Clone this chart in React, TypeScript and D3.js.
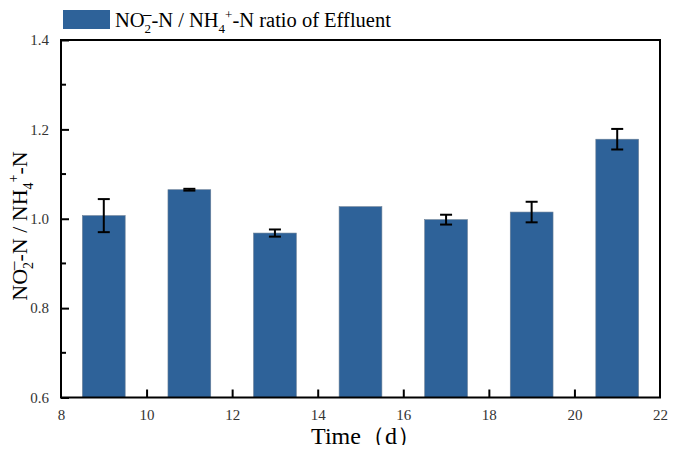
import React, { useRef, useEffect } from "react";
import * as d3 from "d3";

// day on the x axis, ratio value and error (± half-length)
const days = [9, 11, 13, 15, 17, 19, 21];
const ratios = [1.007, 1.065, 0.968, 1.027, 0.998, 1.015, 1.178];
const errors = [0.037, 0.002, 0.008, 0, 0.011, 0.023, 0.023];
const xTicks = [8, 10, 12, 14, 16, 18, 20, 22];
const yTicks = [0.6, 0.8, 1.0, 1.2, 1.4];
const yMinorTicks = [0.7, 0.9, 1.1, 1.3];

const BAR_COLOR = "#2e6299";
const FONT = "'Liberation Serif', 'Times New Roman', serif";

// NO2- -N / NH4+ -N with sub/superscripts
const addRatioLabel = (t: any, size: number, tail: string) => {
  const s = Math.round(size * 0.65);
  const up = Math.round(size * 0.7);
  const dn = Math.round(size * 0.28);
  t.append("tspan").text("NO");
  t.append("tspan").attr("font-size", s).attr("dy", dn).text("2");
  t.append("tspan").attr("font-size", s * 1.25).attr("dx", -s * 0.6).attr("dy", -up).text("–");
  t.append("tspan").attr("dy", up - dn).text("-N / NH");
  t.append("tspan").attr("font-size", s).attr("dy", dn).text("4");
  t.append("tspan").attr("font-size", s).attr("dy", -up).text("+");
  t.append("tspan").attr("dy", up - dn).text(tail);
};

const App = () => {
  const svgRef = useRef<SVGSVGElement>(null);

  useEffect(() => {
    const svg = d3.select(svgRef.current);
    svg.selectAll("*").remove();

    const left = 61;
    const right = 660;
    const top = 40;
    const bottom = 397.5;

    const x = d3.scaleLinear().domain([8, 22]).range([left, right]);
    const y = d3.scaleLinear().domain([0.6, 1.4]).range([bottom, top]);

    const bw = x(1) - x(0);

    // bars
    svg
      .append("g")
      .selectAll("rect")
      .data(days)
      .join("rect")
      .attr("x", (d) => x(d) - bw / 2)
      .attr("y", (d, i) => y(ratios[i]))
      .attr("width", bw)
      .attr("height", (d, i) => bottom - y(ratios[i]))
      .attr("fill", BAR_COLOR)
      .attr("stroke", "#6a7f96")
      .attr("stroke-width", 0.6);

    // error bars
    const eb = svg.append("g").attr("stroke", "#000").attr("stroke-width", 2);
    days.forEach((d, i) => {
      if (!errors[i]) return;
      const cx = x(d);
      const y1 = y(ratios[i] + errors[i]);
      const y2 = y(ratios[i] - errors[i]);
      eb.append("line").attr("x1", cx).attr("x2", cx).attr("y1", y1).attr("y2", y2);
      eb.append("line").attr("x1", cx - 6).attr("x2", cx + 6).attr("y1", y1).attr("y2", y1);
      eb.append("line").attr("x1", cx - 6).attr("x2", cx + 6).attr("y1", y2).attr("y2", y2);
    });

    // frame
    svg
      .append("rect")
      .attr("x", left)
      .attr("y", top)
      .attr("width", right - left)
      .attr("height", bottom - top)
      .attr("fill", "none")
      .attr("stroke", "#000")
      .attr("stroke-width", 2);

    // y axis, ticks inward
    const yAxis = d3
      .axisLeft(y)
      .tickValues(yTicks)
      .tickFormat(d3.format(".1f"))
      .tickSizeInner(-8)
      .tickSizeOuter(0)
      .tickPadding(12);
    const gy = svg.append("g").attr("transform", `translate(${left},0)`).call(yAxis);
    gy.select(".domain").remove();
    gy.selectAll("line").attr("stroke-width", 2);
    gy.selectAll("text")
      .attr("font-family", FONT)
      .attr("font-size", 15)
      .attr("fill", "#333");

    svg
      .append("g")
      .selectAll("line")
      .data(yMinorTicks)
      .join("line")
      .attr("x1", left)
      .attr("x2", left + 5)
      .attr("y1", (d) => y(d))
      .attr("y2", (d) => y(d))
      .attr("stroke", "#000")
      .attr("stroke-width", 2);

    // x axis, ticks inward
    const xAxis = d3
      .axisBottom(x)
      .tickValues(xTicks)
      .tickFormat(d3.format("d"))
      .tickSizeInner(-8)
      .tickSizeOuter(0)
      .tickPadding(12);
    const gx = svg.append("g").attr("transform", `translate(0,${bottom})`).call(xAxis);
    gx.select(".domain").remove();
    gx.selectAll("line").attr("stroke-width", 2);
    gx.selectAll(".tick")
      .filter((d: any) => d === 8 || d === 22)
      .select("line")
      .remove();
    gx.selectAll("text")
      .attr("font-family", FONT)
      .attr("font-size", 15)
      .attr("fill", "#333");

    // x label
    svg
      .append("text")
      .attr("x", 366)
      .attr("y", 444)
      .attr("text-anchor", "middle")
      .attr("font-family", FONT)
      .attr("font-size", 24)
      .text("Time（d）");

    // y label
    const yl = svg
      .append("text")
      .attr("transform", `translate(27,226) rotate(-90)`)
      .attr("text-anchor", "middle")
      .attr("font-family", FONT)
      .attr("font-size", 22);
    addRatioLabel(yl, 22, "-N");

    // legend
    svg
      .append("rect")
      .attr("x", 63)
      .attr("y", 10)
      .attr("width", 47)
      .attr("height", 19)
      .attr("fill", BAR_COLOR);
    const lt = svg
      .append("text")
      .attr("x", 115)
      .attr("y", 27)
      .attr("font-family", FONT)
      .attr("font-size", 20.5);
    addRatioLabel(lt, 20.5, "-N ratio of Effluent");
  }, []);

  return <svg ref={svgRef} width={678} height={453} style={{ display: "block", margin: "-8px" }} />;
};

export default App;
